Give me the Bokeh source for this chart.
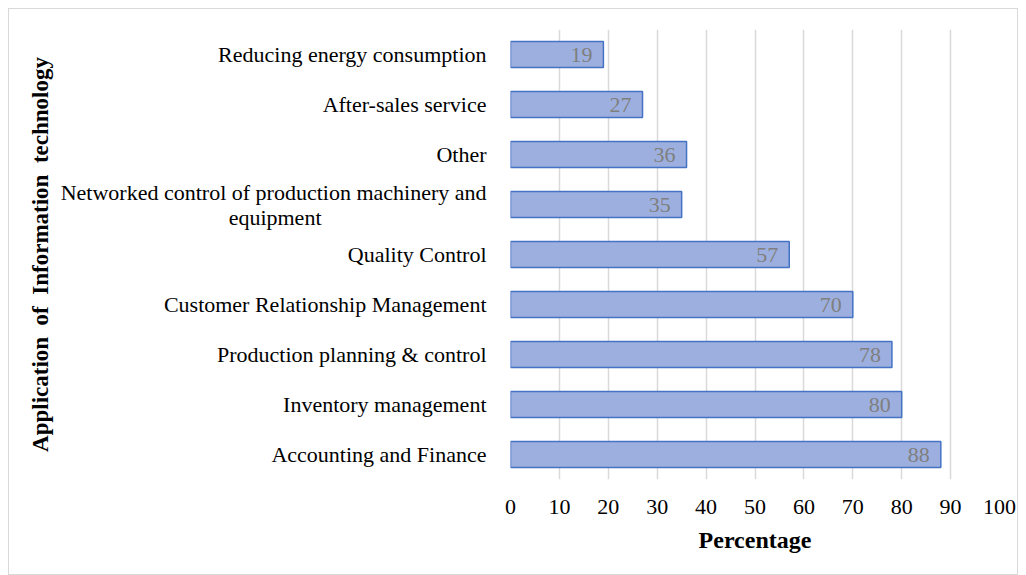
from bokeh.plotting import figure
from bokeh.models import ColumnDataSource, FactorRange
from bokeh.core.properties import value
from bokeh.embed import file_html
from bokeh.resources import INLINE

NB = "\u00a0"
categories = [
    "Reducing energy consumption",
    "After-sales service",
    "Other",
    "Networked control of production machinery and\nequipment" + NB * 30,
    "Quality Control",
    "Customer Relationship Management",
    "Production planning & control",
    "Inventory management",
    "Accounting and Finance",
]
percentages = [19, 27, 36, 35, 57, 70, 78, 80, 88]
x_ticks = [0, 10, 20, 30, 40, 50, 60, 70, 80, 90, 100]

FONT = "Liberation Serif"

src = ColumnDataSource(dict(cat=categories, val=percentages,
                            lab=[str(v) for v in percentages]))

p = figure(width=1010, height=567, margin=(8, 8, 0, 8),
           y_range=FactorRange(*reversed(categories)),
           x_range=(0, 100),
           output_backend="svg", toolbar_location=None,
           min_border_left=501, min_border_right=20,
           min_border_top=20, min_border_bottom=97)
p.styles = {"border": "1px solid #d9d9d9", "box-sizing": "border-box"}
p.outline_line_color = None
p.background_fill_color = "white"
p.border_fill_color = "white"

p.hbar(y="cat", right="val", left=0, height=0.52, source=src,
       fill_color="#9dafde", line_color="#4472c4", line_width=1.5)

p.text(x="val", y="cat", text="lab", source=src, x_offset=-11,
       text_align="right", text_baseline="middle",
       text_font=value(FONT), text_font_size="22px", text_color="#7f7f7f")

p.xaxis.ticker = x_ticks
p.xaxis.axis_line_color = None
p.xaxis.major_tick_line_color = None
p.xaxis.minor_tick_line_color = None
p.xaxis.major_label_text_font = FONT
p.xaxis.major_label_text_font_size = "22px"
p.xaxis.major_label_text_color = "black"
p.xaxis.major_label_standoff = 14
p.xaxis.axis_label = "Percentage"
p.xaxis.axis_label_text_font = FONT
p.xaxis.axis_label_text_font_style = "bold"
p.xaxis.axis_label_text_font_size = "24px"
p.xaxis.axis_label_text_color = "black"
p.xaxis.axis_label_standoff = 10

p.yaxis.axis_line_color = None
p.yaxis.major_tick_line_color = None
p.yaxis.minor_tick_line_color = None
p.yaxis.major_label_text_font = FONT
p.yaxis.major_label_text_font_size = "22px"
p.yaxis.major_label_text_color = "black"
p.yaxis.major_label_text_line_height = 1.0
p.yaxis.major_label_standoff = 18
p.yaxis.axis_label = "Application" + NB + " of" + NB + " Information" + NB + " technology"
p.yaxis.axis_label_text_font = FONT
p.yaxis.axis_label_text_font_style = "bold"
p.yaxis.axis_label_text_font_size = "23px"
p.yaxis.axis_label_text_color = "black"

p.ygrid.grid_line_color = None
p.xgrid.grid_line_color = "#d9d9d9"
p.xgrid.grid_line_width = 1.5

open("out.html", "w").write(file_html(p, INLINE))
